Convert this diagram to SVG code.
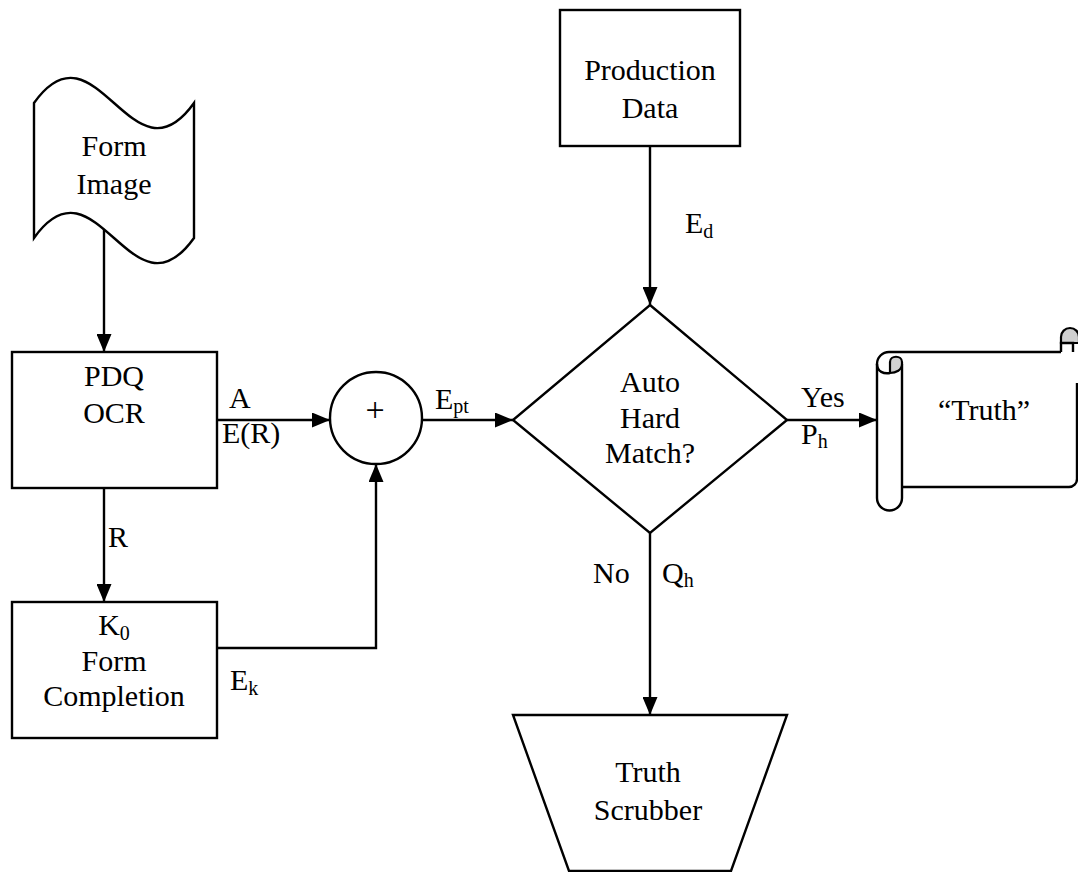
<svg xmlns="http://www.w3.org/2000/svg" width="1078" height="872" viewBox="0 0 1078 872">
<style>
.s{fill:#fff;stroke:#000;stroke-width:2.4}
.l{fill:none;stroke:#000;stroke-width:2.4}
.g{fill:#d0d0d0;stroke:#000;stroke-width:2.2}
text{font-family:"Liberation Serif","Times New Roman",serif;font-size:30px;fill:#000}
.c{text-anchor:middle}
.sub{font-size:20px}
</style>
<defs>
<marker id="ah" markerUnits="userSpaceOnUse" markerWidth="18" markerHeight="15" refX="18" refY="7.5" orient="auto">
<path d="M0,0 L18,7.5 L0,15 Z" fill="#000"/>
</marker>
</defs>
<rect width="1078" height="872" fill="#fff"/>
<g id="connectors">
<path class="l" d="M104,229 V352" marker-end="url(#ah)"/>
<path class="l" d="M104,488 V602" marker-end="url(#ah)"/>
<path class="l" d="M217,420 H330" marker-end="url(#ah)"/>
<path class="l" d="M217,648 H376 V464" marker-end="url(#ah)"/>
<path class="l" d="M422,420 H513" marker-end="url(#ah)"/>
<path class="l" d="M650,146 V305" marker-end="url(#ah)"/>
<path class="l" d="M787,420 H877" marker-end="url(#ah)"/>
<path class="l" d="M650,533 V715" marker-end="url(#ah)"/>
</g>
<g id="form-image">
<path class="s" d="M34,103 C96,16 132,190 194,103 L194,238 C132,325 96,151 34,238 Z"/>
<text class="c" x="114" y="156">Form</text>
<text class="c" x="114" y="194">Image</text>
</g>
<g id="pdq-ocr">
<rect class="s" x="12" y="352" width="205" height="136"/>
<text class="c" x="114" y="386">PDQ</text>
<text class="c" x="114" y="423">OCR</text>
</g>
<g id="k0-form-completion">
<rect class="s" x="12" y="602" width="205" height="136"/>
<text class="c" x="114" y="635">K<tspan class="sub" dy="5">0</tspan></text>
<text class="c" x="114" y="671">Form</text>
<text class="c" x="114" y="706">Completion</text>
</g>
<g id="sum">
<circle class="s" cx="376" cy="418" r="46"/>
<text class="c" x="375" y="421" style="font-size:34px">+</text>
</g>
<g id="production-data">
<rect class="s" x="560" y="10" width="180" height="136"/>
<text class="c" x="650" y="80">Production</text>
<text class="c" x="650" y="118">Data</text>
</g>
<g id="decision">
<path class="s" d="M650,305 L787,420 L650,533 L513,420 Z"/>
<text class="c" x="650" y="392">Auto</text>
<text class="c" x="650" y="428">Hard</text>
<text class="c" x="650" y="463">Match?</text>
</g>
<g id="truth">
<path d="M889,352 H1077 V479 A8,8 0 0 1 1069,487 H902 V498 A12.5,12.5 0 0 1 877,498 V364 A12,12 0 0 1 889,352 Z" fill="#fff"/>
<path class="l" d="M1077,383 V479 A8,8 0 0 1 1069,487 H902"/>
<path class="l" d="M1061,352 H889 A12,12 0 0 0 877,364 V498 A12.5,12.5 0 0 0 902,498 V364"/>
<path class="g" d="M1061,343 V337 A9,9 0 0 1 1079,337 V343 Z"/>
<path class="l" d="M1061,352 V343 H1073 V352"/>
<path class="l" d="M877,364 C877,372 884,374 890,373"/>
<path class="g" d="M890,373 C896,373 902,370 902,364 V362 C902,355 890,355 890,362 Z"/>
<text class="c" x="984" y="420">“Truth”</text>
</g>
<g id="truth-scrubber">
<path class="s" d="M513,715 H787 L731,871 H569 Z"/>
<text class="c" x="648" y="782">Truth</text>
<text class="c" x="648" y="820">Scrubber</text>
</g>
<g id="labels">
<text x="229" y="408">A</text>
<text x="222" y="443">E(R)</text>
<text x="435" y="409">E<tspan class="sub" dy="4">pt</tspan></text>
<text x="685" y="233">E<tspan class="sub" dy="5">d</tspan></text>
<text x="108" y="547">R</text>
<text x="230" y="690">E<tspan class="sub" dy="5">k</tspan></text>
<text x="801" y="407">Yes</text>
<text x="801" y="444">P<tspan class="sub" dy="4">h</tspan></text>
<text x="593" y="583">No</text>
<text x="662" y="583">Q<tspan class="sub" dy="4">h</tspan></text>
</g>
</svg>
